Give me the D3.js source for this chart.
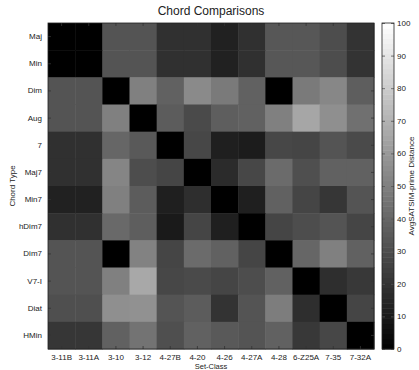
<!DOCTYPE html>
<html lang="en">
<head>
<meta charset="UTF-8">
<title>Chord Comparisons</title>
<script src="https://d3js.org/d3.v7.min.js"></script>
<style>
    body { margin: 0; background: #fff; font-family: "Liberation Sans", Arial, sans-serif; }
    svg text { fill: #222; }
    .tick-label { font-size: 8px; }
</style>
</head>
<body>
<svg width="419" height="370"></svg>
<script>
    // chord types (rows) and set-classes (columns)
    const chordTypes = ["Maj", "Min", "Dim", "Aug", "7", "Maj7", "Min7", "hDim7", "Dim7", "V7-I", "Diat", "HMin"];
    const setClasses = ["3-11B", "3-11A", "3-10", "3-12", "4-27B", "4-20", "4-26", "4-27A", "4-28", "6-Z25A", "7-35", "7-32A"];

    // average SATSIM-prime distance, one row per chord type
    const distances = [
        [0, 0, 33, 33, 19, 19, 13, 19, 34, 34, 30, 20],
        [0, 0, 33, 33, 19, 19, 13, 19, 34, 34, 30, 20],
        [33, 33, 0, 50, 38, 54, 48, 38, 0, 48, 53, 37],
        [33, 33, 50, 0, 36, 29, 37, 38, 50, 65, 56, 44],
        [19, 19, 40, 35, 0, 28, 12, 11, 28, 27, 33, 29],
        [19, 19, 52, 30, 27, 0, 17, 28, 42, 31, 38, 38],
        [13, 13, 50, 36, 12, 18, 0, 12, 38, 27, 21, 33],
        [19, 19, 41, 37, 10, 27, 12, 0, 27, 30, 33, 27],
        [33, 33, 0, 51, 27, 42, 38, 27, 0, 40, 50, 38],
        [33, 33, 50, 66, 28, 29, 27, 30, 38, 0, 18, 22],
        [31, 31, 56, 57, 33, 36, 20, 33, 49, 18, 0, 27],
        [21, 21, 38, 45, 31, 38, 35, 33, 38, 22, 28, 0]
    ];
    const colorTicks = [0, 10, 20, 30, 40, 50, 60, 70, 80, 90, 100];

    const svg = d3.select("svg");
    const plot = {left: 48, top: 23, width: 326, height: 326};
    const bar = {left: 382, width: 12};

    const x = d3.scaleBand().domain(setClasses).range([plot.left, plot.left + plot.width]);
    const y = d3.scaleBand().domain(chordTypes).range([plot.top, plot.top + plot.height]);
    const color = d3.scaleLinear().domain([0, 100]).range(["#000", "#fff"]);
    const cy = d3.scaleLinear().domain([0, 100]).range([plot.top + plot.height, plot.top]);

    // heatmap cells
    const cells = [];
    distances.forEach((row, r) => row.forEach((v, c) => cells.push({r: chordTypes[r], c: setClasses[c], v})));
    svg.append("g").selectAll("rect")
        .data(cells)
        .join("rect")
        .attr("x", d => x(d.c))
        .attr("y", d => y(d.r))
        .attr("width", x.bandwidth() + 0.5)
        .attr("height", y.bandwidth() + 0.5)
        .attr("fill", d => color(d.v));

    // axes with inward ticks
    const tickLen = 3;
    const axisColor = "#333";
    const bottomAxis = svg.append("g")
        .attr("transform", `translate(0,${plot.top + plot.height})`)
        .call(d3.axisBottom(x).tickSizeInner(-tickLen).tickSizeOuter(0).tickPadding(5));
    const topAxis = svg.append("g")
        .attr("transform", `translate(0,${plot.top})`)
        .call(d3.axisTop(x).tickSizeInner(-tickLen).tickSizeOuter(0).tickFormat(""));
    const leftAxis = svg.append("g")
        .attr("transform", `translate(${plot.left},0)`)
        .call(d3.axisLeft(y).tickSizeInner(-tickLen).tickSizeOuter(0).tickPadding(6));
    const rightAxis = svg.append("g")
        .attr("transform", `translate(${plot.left + plot.width},0)`)
        .call(d3.axisRight(y).tickSizeInner(-tickLen).tickSizeOuter(0).tickFormat(""));

    [bottomAxis, topAxis, leftAxis, rightAxis].forEach(g => {
        g.select(".domain").remove();
        g.selectAll(".tick line").attr("stroke", axisColor).attr("stroke-width", 0.8);
        g.selectAll(".tick text").attr("class", "tick-label").attr("fill", "#222")
            .style("font-family", "'Liberation Sans', Arial, sans-serif");
    });

    svg.append("rect")
        .attr("x", plot.left).attr("y", plot.top)
        .attr("width", plot.width).attr("height", plot.height)
        .attr("fill", "none").attr("stroke", "#222").attr("stroke-width", 0.8);

    // title and axis labels
    svg.append("text")
        .attr("x", plot.left + plot.width / 2).attr("y", 15)
        .attr("text-anchor", "middle").style("font-size", "12px")
        .text("Chord Comparisons");
    svg.append("text")
        .attr("x", plot.left + plot.width / 2).attr("y", 369)
        .attr("text-anchor", "middle").style("font-size", "7.5px")
        .text("Set-Class");
    svg.append("text")
        .attr("transform", `translate(15,${plot.top + plot.height / 2}) rotate(-90)`)
        .attr("text-anchor", "middle").style("font-size", "8px")
        .text("Chord Type");

    // colorbar
    const steps = d3.range(64);
    const stepH = plot.height / 64;
    svg.append("g").selectAll("rect")
        .data(steps)
        .join("rect")
        .attr("x", bar.left)
        .attr("y", d => cy((d + 1) * 100 / 64))
        .attr("width", bar.width)
        .attr("height", stepH + 0.5)
        .attr("fill", d => color((d + 0.5) * 100 / 64));

    const barAxisR = svg.append("g")
        .attr("transform", `translate(${bar.left + bar.width},0)`)
        .call(d3.axisRight(cy).tickValues(colorTicks).tickSizeInner(-tickLen).tickSizeOuter(0).tickPadding(3));
    const barAxisL = svg.append("g")
        .attr("transform", `translate(${bar.left},0)`)
        .call(d3.axisLeft(cy).tickValues(colorTicks).tickSizeInner(-tickLen).tickSizeOuter(0).tickFormat(""));
    [barAxisR, barAxisL].forEach(g => {
        g.select(".domain").remove();
        g.selectAll(".tick line").attr("stroke", "#555").attr("stroke-width", 0.8);
        g.selectAll(".tick text").attr("class", "tick-label").attr("fill", "#222")
            .style("font-family", "'Liberation Sans', Arial, sans-serif");
    });
    svg.append("rect")
        .attr("x", bar.left).attr("y", plot.top)
        .attr("width", bar.width).attr("height", plot.height)
        .attr("fill", "none").attr("stroke", "#222").attr("stroke-width", 0.8);

    svg.append("text")
        .attr("transform", `translate(414,${plot.top + plot.height / 2}) rotate(-90)`)
        .attr("text-anchor", "middle").style("font-size", "8px")
        .text("AvgSATSIM-prime Distance");
</script>
</body>
</html>
